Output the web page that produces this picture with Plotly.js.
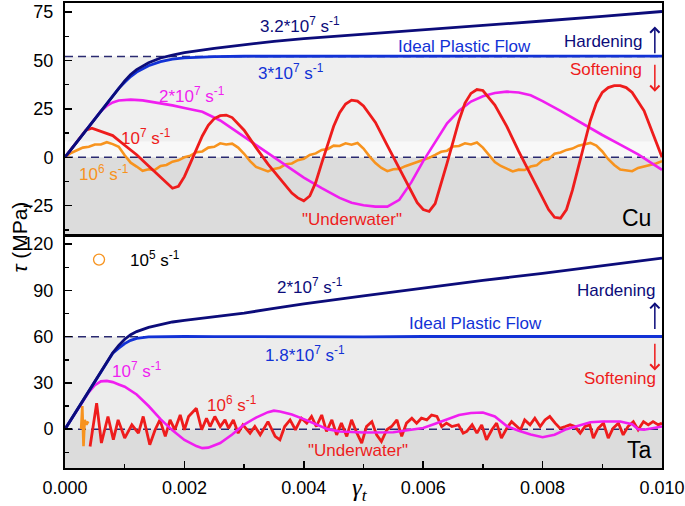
<!DOCTYPE html>
<html><head><meta charset="utf-8">
<script src="https://cdn.plot.ly/plotly-3.0.1.min.js"></script>
<style>html,body{margin:0;padding:0;background:#fff}#chart{width:685px;height:506px}</style>
</head><body><div id="chart"></div>
<script>
// ---------- Cu panel data ----------
var cuFastG = [0,0.0002,0.0004,0.0006,0.0008,0.0009,0.001,0.0011,0.0012,0.0014,0.0016,0.0018,0.002,0.0025,0.003,0.0035,0.004,0.005,0.006,0.007,0.008,0.009,0.010];
var cu32e7 = [0,8,16,24,32,35.8,39.5,42.8,45.3,48.8,51.3,52.8,54,56.3,58.2,59.9,61.3,63.5,65.7,68,70.4,72.8,75.3];
var cu3e7  = [0,8,16,24,32,35.6,38.8,41.7,44,47.3,49.4,50.7,51.4,52,52.2,52.2,52.3,52.2,52.3,52.2,52.3,52.3,52.3];

var cuMagG = [0,0.0002,0.0004,0.0006,0.0007,0.0008,0.0009,0.001,0.0011,0.0013,0.0015,0.0018,0.002,0.0023,0.0026,0.003,0.0033,0.0035,0.0038,0.004,0.0043,0.0046,0.0048,0.005,0.0052,0.0054,0.0056,0.0058,0.006,0.0062,0.0064,0.0066,0.0068,0.007,0.0072,0.0074,0.0076,0.0078,0.008,0.0083,0.0086,0.009,0.0093,0.0096,0.01];
var cuMagT = [0,8,16,23.8,26.5,28.3,29.3,29.7,29.8,29.4,28.5,26.8,25.5,23.5,19,10.5,4,0,-6.5,-10.5,-16,-21,-23.5,-24.8,-25.5,-25.5,-22,-13,-2,8,17.5,24,28.8,31.5,33.2,33.9,33.5,32,29,24,18.5,11.5,6.5,1.5,-6.5];

var cuRedG = [0,0.0002,0.00035,0.00045,0.0006,0.0008,0.001,0.0012,0.0014,0.0016,0.0017,0.0018,0.0019,0.002,0.0021,0.0022,0.0023,0.0024,0.0025,0.0026,0.0027,0.0028,0.003,0.0032,0.0034,0.0036,0.0038,0.0039,0.004,0.0041,0.0042,0.0043,0.0044,0.0045,0.0046,0.0047,0.0048,0.0049,0.005,0.0052,0.0054,0.0056,0.0058,0.0059,0.006,0.0061,0.0062,0.0063,0.0064,0.0065,0.0066,0.0067,0.0068,0.0069,0.007,0.0072,0.0074,0.0076,0.0078,0.008,0.0081,0.0082,0.0083,0.0084,0.0085,0.0086,0.0087,0.0088,0.0089,0.009,0.0091,0.0092,0.0093,0.0094,0.0095,0.0097,0.0099,0.01];
var cuRedT = [0,8,14,15,13.3,11.2,6.2,1.3,-4.5,-10,-13,-16,-15,-10,-3,4,11,16.5,20,21.5,21.8,20.5,14,5,-3.5,-11,-18.5,-21,-22.5,-20,-13,-3,7,16,23,27.5,29.5,29,26.5,18,6,-6,-18,-23.5,-27,-28,-24,-14,-3,8,19,28,33,35,34.5,27,16,3,-9,-21,-27,-31,-31.5,-27,-17,-5,7,19,28,33.5,36,37,37,36,33.5,24,8,0];

var cuOrgG = [0,0.0001,0.0002,0.0003,0.0004,0.0005,0.0006,0.0007,0.0008,0.0009,0.001,0.0011,0.0012,0.0013,0.0014,0.0015,0.0016,0.0017,0.0018,0.0019,0.002,0.0021,0.0022,0.0023,0.0024,0.0025,0.0026,0.0027,0.0028,0.0029,0.003,0.0031,0.0032,0.0033,0.0034,0.0035,0.0036,0.0037,0.0038,0.0039,0.004,0.0041,0.0042,0.0043,0.0044,0.0045,0.0046,0.0047,0.0048,0.0049,0.005,0.0051,0.0052,0.0053,0.0054,0.0055,0.0056,0.0057,0.0058,0.0059,0.006,0.0061,0.0062,0.0063,0.0064,0.0065,0.0066,0.0067,0.0068,0.0069,0.007,0.0071,0.0072,0.0073,0.0074,0.0075,0.0076,0.0077,0.0078,0.0079,0.008,0.0081,0.0082,0.0083,0.0084,0.0085,0.0086,0.0087,0.0088,0.0089,0.009,0.0091,0.0092,0.0093,0.0094,0.0095,0.0096,0.0097,0.0098,0.0099,0.01];
var cuOrgT = [0,2.2,3.6,5.0,5.4,6.6,6.6,7.8,6.8,5.4,1.0,-2.8,-4.8,-7.0,-6.2,-6.6,-4.5,-4.0,-2.3,-1.6,0.0,0.8,2.6,3.0,5.0,5.4,7.2,6.6,7.0,5.0,1.8,-2.0,-5.0,-6.0,-7.3,-6.0,-5.4,-3.6,-3.2,-1.5,-0.8,1.2,2.0,3.8,4.2,6.0,5.8,7.2,6.5,7.4,4.5,0.5,-3.0,-5.5,-7.2,-6.2,-6.0,-4.6,-3.5,-2.4,-1.6,-0.3,1.2,2.8,3.4,5.6,5.8,7.2,6.6,7.6,5.0,1.0,-2.5,-4.5,-6.0,-7.3,-6.4,-6.6,-4.8,-4.2,-1.5,-1.0,1.8,2.5,3.8,4.5,6.0,6.8,7.4,6.0,3.0,-1.0,-4.0,-6.3,-6.8,-7.2,-5.5,-4.8,-3.8,-3.2,-2.0];

// ---------- Ta panel data ----------
var taFastG = [0,0.0002,0.0004,0.0006,0.0008,0.0009,0.001,0.0011,0.0012,0.0014,0.0016,0.0018,0.002,0.0025,0.003,0.0035,0.004,0.005,0.006,0.007,0.008,0.009,0.010];
var ta2e7  = [0,12.4,24.8,37.2,49.5,54.3,58.3,61.3,63.3,66,68,69.5,70.5,73,75.3,78.3,81.3,86.5,91.5,96.5,101,106,111];
var ta18e7 = [0,12.4,24.8,37.2,49.3,52.5,55.5,57.6,58.9,59.8,60,60.1,60.1,60,59.9,60.1,60,59.9,60.1,60,60.1,60,60.1];

var taMagG = [0,0.0002,0.0004,0.0005,0.0006,0.0007,0.0008,0.0009,0.001,0.0012,0.0014,0.0016,0.0018,0.002,0.0022,0.0023,0.0024,0.0026,0.0028,0.003,0.0032,0.0034,0.0035,0.0036,0.0038,0.004,0.0042,0.0044,0.0046,0.005,0.0055,0.0058,0.006,0.0062,0.0064,0.0066,0.0068,0.007,0.0072,0.0074,0.0076,0.0078,0.008,0.0082,0.0084,0.0086,0.0088,0.009,0.0093,0.0095,0.0096,0.0097,0.0099,0.01];
var taMagT = [0,12.4,24,28.5,31,31.3,30.5,29,27.5,22.5,15,6.5,-0.8,-7,-11,-12.3,-12,-9,-3.5,3,7.5,11,12,11.5,9.5,6.5,3,0,-1.5,-2.2,-2,-0.5,0.8,3.5,6.3,9.2,10.5,10.8,8.2,2,-1,-3.5,-5.2,-3.6,0,2,4.5,5,5,3.2,0,-0.4,0.8,1.7];

var taRedG = [0.00042,0.00053,0.00061,0.00072,0.00081,0.00089,0.001,0.00112,0.00123,0.00131,0.00142,0.00151,0.00159,0.00168,0.00176,0.00184,0.00193,0.002,0.00207,0.00215,0.0022,0.00229,0.00237,0.00243,0.00251,0.0026,0.00268,0.00274,0.00282,0.0029,0.00298,0.0031,0.00318,0.00327,0.0034,0.00352,0.0036,0.00368,0.00377,0.00386,0.00396,0.00405,0.00413,0.00421,0.0043,0.00438,0.00447,0.00455,0.00463,0.00472,0.0048,0.00489,0.00497,0.00505,0.00514,0.00522,0.0053,0.00539,0.00547,0.00556,0.00564,0.00572,0.00581,0.00589,0.00597,0.00606,0.00614,0.00623,0.00631,0.00639,0.00648,0.00659,0.00667,0.00673,0.00682,0.0069,0.00698,0.00706,0.00715,0.00723,0.00731,0.0074,0.00748,0.00757,0.00763,0.0077,0.00779,0.00787,0.00796,0.00804,0.00812,0.00821,0.00829,0.00838,0.00846,0.00854,0.00863,0.00871,0.00879,0.00885,0.00893,0.00902,0.0091,0.00918,0.00927,0.00935,0.00943,0.00952,0.0096,0.00969,0.00977,0.00985,0.00994,0.01];
var taRedT = [-11.2,16.8,-9,8.2,-6.9,6,-5.8,2.8,-2.6,8.2,-10.1,-0.4,6,-4.7,6,-0.4,9.2,-0.4,8.2,11.4,13.5,-0.4,7.1,1.7,8.2,1.7,6,0.6,6,-2.6,2.8,-2.6,1.7,-3.7,4.9,-4.7,-6.9,1.7,6,-0.4,7.1,3.9,8.2,1.7,9.2,-1.5,6,-3.7,3.9,-4.7,6,-2.6,-9,1.7,4.9,-3.7,-8,-0.4,1.7,6,-4.7,3.9,7.1,3.9,7.1,6,9.2,8.2,1.7,3.9,1.7,2.8,-2.6,-1.5,2.8,-2.6,2.8,-6.9,-0.4,3.9,-5.8,0.6,4.9,1.7,-0.4,6,2.8,7.1,1.7,6,8.2,3.9,0.6,1.7,2.8,1.7,-2.6,1.7,2.8,-5.8,0.6,3.9,-5.8,0.6,3.9,-3.7,1.7,4.9,-0.4,4.9,2.8,4.9,2.8,3.9];

var taOrgG = [0.00027,0.00029,0.00031,0.00033,0.00036,0.00039];
var taOrgT = [0,15,-11,6,3,5];

var legendMarkG = [0.00057];
var legendMarkT = [110];

var refLineG = [0, 0.010];
var cuIdeal = [52, 52];
var taIdeal = [60, 60];
var zeroLine = [0, 0];

// ---------- colours ----------
var NAVY = '#0c0c7a', BLUE = '#1232d6', MAG = '#f01ef0', RED = '#ee1c1c', ORG = '#f7931e';
var FONT = 'Liberation Sans, Arial, sans-serif';

function ln(x, y, xa, ya, color, w, dash) {
  return {x: x, y: y, xaxis: xa, yaxis: ya, type: 'scatter', mode: 'lines',
          line: {color: color, width: w, dash: dash || 'solid'}, hoverinfo: 'skip'};
}

var traces = [
  // Cu (top)
  ln(refLineG, zeroLine, 'x2', 'y', '#2a2a70', 1.5, '8px,5px'),
  ln(refLineG, cuIdeal, 'x2', 'y', '#2a2a70', 1.5, '8px,5px'),
  ln(cuOrgG, cuOrgT, 'x2', 'y', ORG, 2.6),
  ln(cuMagG, cuMagT, 'x2', 'y', MAG, 2.6),
  ln(cuRedG, cuRedT, 'x2', 'y', RED, 2.8),
  ln(cuFastG, cu3e7, 'x2', 'y', BLUE, 2.8),
  ln(cuFastG, cu32e7, 'x2', 'y', NAVY, 2.8),
  // Ta (bottom)
  ln(refLineG, zeroLine, 'x', 'y2', '#2a2a70', 1.5, '8px,5px'),
  ln(refLineG, taIdeal, 'x', 'y2', '#2a2a70', 1.5, '8px,5px'),
  ln(taOrgG, taOrgT, 'x', 'y2', ORG, 2.6),
  ln(taRedG, taRedT, 'x', 'y2', RED, 2.8),
  ln(taMagG, taMagT, 'x', 'y2', MAG, 2.6),
  ln(taFastG, ta18e7, 'x', 'y2', BLUE, 2.8),
  ln(taFastG, ta2e7, 'x', 'y2', NAVY, 2.8),
  {x: legendMarkG, y: legendMarkT, xaxis: 'x', yaxis: 'y2', type: 'scatter', mode: 'markers',
   marker: {symbol: 'circle-open', size: 11, color: ORG, line: {width: 1.3, color: ORG}}, hoverinfo: 'skip'}
];

function ann(x, y, xr, yr, text, color, size, xanchor) {
  return {x: x, y: y, xref: xr, yref: yr, text: text, showarrow: false,
          font: {family: FONT, size: size, color: color}, xanchor: xanchor || 'center', yanchor: 'middle'};
}
function arrow(x, y0, y1, xr, yr, color) {
  return {x: x, y: y1, ax: x, ay: y0, xref: xr, yref: yr, axref: xr, ayref: yr, text: '',
          showarrow: true, arrowhead: 4, arrowsize: 1.2, arrowwidth: 1.5, arrowcolor: color};
}
var S = '<sup>', E = '</sup>';
var annotations = [
  ann(0.00393, 68.4, 'x2', 'y', '3.2*10' + S + '7' + E + ' s' + S + '-1' + E, NAVY, 17),
  ann(0.00670, 57.2, 'x2', 'y', 'Ideal Plastic Flow', BLUE, 17),
  ann(0.00378, 44.2, 'x2', 'y', '3*10' + S + '7' + E + ' s' + S + '-1' + E, BLUE, 17),
  ann(0.00970, 59.7, 'x2', 'y', 'Hardening', NAVY, 17, 'right'),
  ann(0.00970, 45.1, 'x2', 'y', 'Softening', RED, 17, 'right'),
  ann(0.00212, 32.2, 'x2', 'y', '2*10' + S + '7' + E + ' s' + S + '-1' + E, MAG, 17),
  ann(0.00135, 10.6, 'x2', 'y', '10' + S + '7' + E + ' s' + S + '-1' + E, RED, 17),
  ann(0.000645, -8.1, 'x2', 'y', '10' + S + '6' + E + ' s' + S + '-1' + E, ORG, 17),
  ann(0.0048, -32.4, 'x2', 'y', '"Underwater"', RED, 17),
  ann(0.00958, -31.4, 'x2', 'y', 'Cu', '#000', 23),
  arrow(0.00988, 52.9, 67.5, 'x2', 'y', NAVY),
  arrow(0.00988, 48.6, 33.9, 'x2', 'y', RED),

  ann(0.0015, 110.5, 'x', 'y2', '10' + S + '5' + E + ' s' + S + '-1' + E, '#000', 17),
  ann(0.00411, 93, 'x', 'y2', '2*10' + S + '7' + E + ' s' + S + '-1' + E, NAVY, 17),
  ann(0.00688, 68.3, 'x', 'y2', 'Ideal Plastic Flow', BLUE, 17),
  ann(0.00402, 48.9, 'x', 'y2', '1.8*10' + S + '7' + E + ' s' + S + '-1' + E, BLUE, 17),
  ann(0.00992, 89.9, 'x', 'y2', 'Hardening', NAVY, 17, 'right'),
  ann(0.00993, 32.8, 'x', 'y2', 'Softening', RED, 17, 'right'),
  ann(0.0012, 38.1, 'x', 'y2', '10' + S + '7' + E + ' s' + S + '-1' + E, MAG, 17),
  ann(0.00279, 16.6, 'x', 'y2', '10' + S + '6' + E + ' s' + S + '-1' + E, RED, 17),
  ann(0.0049, -13.6, 'x', 'y2', '"Underwater"', RED, 17),
  ann(0.00963, -13.6, 'x', 'y2', 'Ta', '#000', 23),
  arrow(0.00988, 64, 82.3, 'x', 'y2', NAVY),
  arrow(0.00988, 56.4, 38.1, 'x', 'y2', RED),

  {x: -0.076, y: 0.497, xref: 'paper', yref: 'paper', xanchor: 'center', yanchor: 'middle',
   text: '<i>τ</i> (MPa)', textangle: -90,
   showarrow: false, font: {family: FONT, size: 21, color: '#000'}},
  {x: 0.494, y: -0.047, xref: 'paper', yref: 'paper', xanchor: 'center', yanchor: 'middle',
   text: '<i>γ<sub>t</sub></i>',
   showarrow: false, font: {family: 'Liberation Serif, Times New Roman, serif', size: 25, color: '#000'}}
];

function band(yr, y0, y1, color) {
  return {type: 'rect', xref: 'paper', yref: yr, x0: 0, x1: 1, y0: y0, y1: y1,
          fillcolor: color, line: {width: 0}, layer: 'below'};
}
var shapes = [
  band('y', 8, 52, '#efefef'), band('y', 0, 8, '#f8f8f8'), band('y', -40, 0, '#dcdcdc'),
  band('y2', 0, 60, '#ececec'), band('y2', -26, 0, '#dcdcdc')
];

var axCommon = {showgrid: false, zeroline: false, showline: true, linecolor: '#000', linewidth: 2,
  mirror: true, ticks: 'inside', ticklen: 7, tickwidth: 1.5, tickcolor: '#000',
  tickfont: {family: FONT, size: 18, color: '#000'}};

var layout = {
  width: 685, height: 506,
  margin: {l: 65, r: 23, t: 3, b: 38},
  paper_bgcolor: '#fff', plot_bgcolor: '#fff',
  showlegend: false,
  font: {family: FONT},
  xaxis: Object.assign({}, axCommon, {domain: [0, 1], anchor: 'y2', range: [0, 0.010], dtick: 0.002, tick0: 0,
    tickformat: '.3f', ticklabelstandoff: 2,
    minor: {ticks: 'inside', ticklen: 4, dtick: 0.001, tickwidth: 1.5, tickcolor: '#000'}}),
  xaxis2: Object.assign({}, axCommon, {domain: [0, 1], anchor: 'y', range: [0, 0.010], matches: 'x',
    showticklabels: false, ticks: ''}),
  yaxis: Object.assign({}, axCommon, {domain: [0.503, 1], anchor: 'x2', range: [-39.7, 79.7], dtick: 25, tick0: 0,
    ticklabelstandoff: 6,
    minor: {ticks: 'inside', ticklen: 4, dtick: 12.5, tickwidth: 1.5, tickcolor: '#000'}}),
  yaxis2: Object.assign({}, axCommon, {domain: [0, 0.497], anchor: 'x', range: [-25.2, 124.7], dtick: 30, tick0: 0,
    ticklabelstandoff: 6,
    minor: {ticks: 'inside', ticklen: 4, dtick: 15, tickwidth: 1.5, tickcolor: '#000'}}),
  shapes: shapes,
  annotations: annotations
};

Plotly.newPlot('chart', traces, layout, {displayModeBar: false, staticPlot: true});
</script></body></html>
